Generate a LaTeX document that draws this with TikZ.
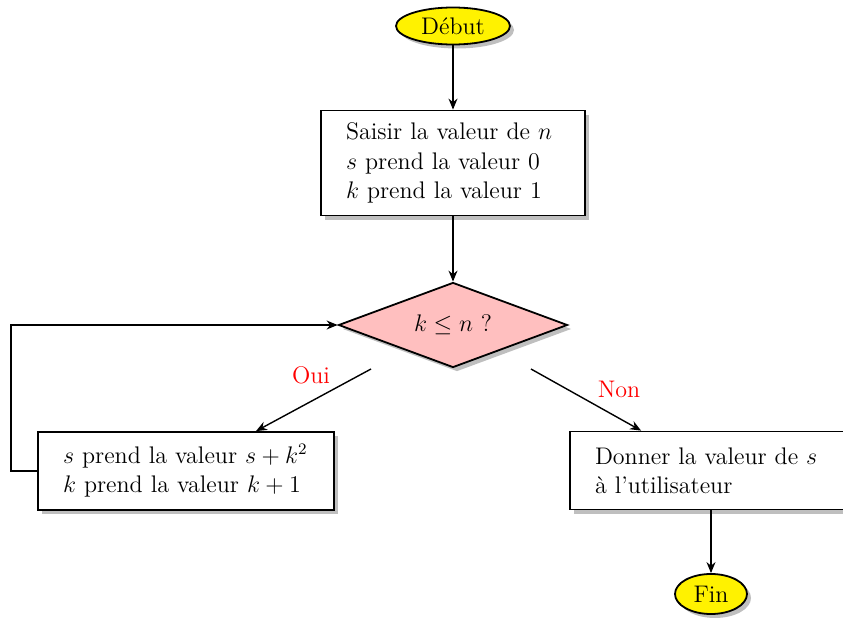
\documentclass[tikz,border=0pt]{standalone}
\usetikzlibrary{shapes.geometric,shadows,arrows.meta,calc}
\begin{document}
\begin{tikzpicture}[x=0.5pt,y=-0.5pt,
  every node/.style={font=\fontsize{12}{14.6}\selectfont},
  shade/.style={drop shadow={shadow xshift=2pt,shadow yshift=-2pt,fill=black!50,opacity=0.5}},
  term/.style={ellipse,draw,line width=0.9pt,fill=yellow,inner sep=0pt,shade},
  proc/.style={rectangle,draw,line width=0.9pt,fill=white,align=left,inner xsep=12.5pt,inner ysep=0pt,shade},
  test/.style={diamond,aspect=2.7,draw,line width=0.9pt,fill=pink,inner sep=0pt,shade},
  arr/.style={-{Stealth[length=5.5pt,width=4.5pt]},line width=0.7pt},
  lab/.style={text=red}]
\useasboundingbox (0,0) rectangle (843,621);
\node[term,minimum width=57pt,minimum height=18.5pt] (deb) at (453,26) {Début};
\node[proc,text width=107pt,minimum height=52.5pt] (init) at (453,163)
  {Saisir la valeur de $n$\\ $s$ prend la valeur 0\\ $k$ prend la valeur 1};
\node[test,minimum width=114.5pt,minimum height=42.5pt] (test) at (453,325) {$k\le n$ ?};
\node[proc,text width=123pt,minimum height=39pt] (left) at (186,471)
  {$s$ prend la valeur $s+k^2$\\ $k$ prend la valeur $k+1$};
\node[proc,text width=123pt,minimum height=39pt] (right) at (718,470.5)
  {Donner la valeur de $s$\\ à l’utilisateur};
\node[term,minimum width=36pt,minimum height=20pt] (fin) at (711,594) {Fin};
\node[lab] (oui) at (311,375) {Oui};
\node[lab] (non) at (619,389) {Non};
\coordinate (o1) at (371,369);
\coordinate (n1) at (531,369);
\draw[arr] (deb) -- (init);
\draw[arr] (init) -- (test);
\draw[arr] (o1) -- ($(left.north)+(70,0)$);
\draw[arr] (n1) -- ($(right.north west)+(72,0)$);
\draw[arr] (fin |- right.south) -- (fin);
\draw[arr] (left.west) -- ++(-26,0) |- (test.west);
\end{tikzpicture}
\end{document}
